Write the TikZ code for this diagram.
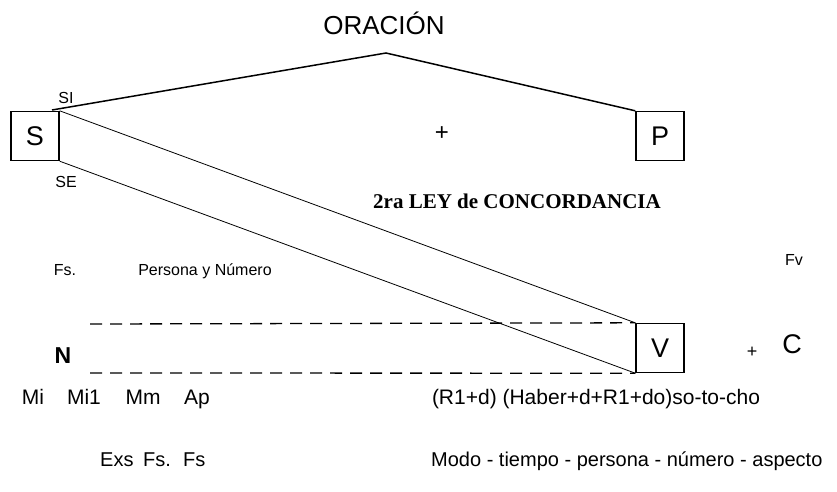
\documentclass[tikz,border=0pt]{standalone}
\usepackage{fontspec}
\setmainfont{Liberation Sans}
\newfontfamily\timesfont{Liberation Serif}
\usepackage{tikz}

\tikzset{
  caja/.style={draw, line width=1.4pt, minimum width=48pt, minimum height=49pt, inner sep=0pt, font=\fontsize{27}{27}\selectfont},
  chico/.style={anchor=base, inner sep=0pt, font=\fontsize{16}{16}\selectfont},
  medio/.style={anchor=base, inner sep=0pt, font=\fontsize{21}{21}\selectfont},
  bajo/.style={anchor=base west, inner sep=0pt, font=\fontsize{20}{20}\selectfont},
  raya/.style={dash pattern=on 12pt off 8pt, line width=1.3pt}
}

\begin{document}
\begin{tikzpicture}[x=1pt, y=-1pt]
      \useasboundingbox (0,0) rectangle (837,491);
      \node[anchor=base, inner sep=0pt, font=\fontsize{26}{26}\selectfont] (oracion) at (384,34) {ORACIÓN};
      \node[caja] (S) at (35,136) {S};
      \node[caja] (P) at (660,136) {P};
      \node[caja] (V) at (660,348) {V};
      \coordinate (apex) at (386,53);
      \coordinate (si) at (52,110);
      \draw[line width=1.5pt] (si) -- (apex) -- (P.north west);
      \draw[line width=0.8pt] (S.north east) -- (V.north west);
      \draw[line width=0.8pt] (S.south east) -- (V.south west);
      \coordinate (n1) at (90,324);
      \coordinate (n2) at (90,373);
      \draw[raya] (n1) -- (V.north west);
      \draw[raya] (n2) -- (V.south west);
      \node[chico] (si lbl) at (66,103) {SI};
      \node[chico] (se lbl) at (66,187) {SE};
      \node[anchor=center, inner sep=0pt, font=\fontsize{24}{24}\selectfont] (mas) at (442,134) {+};
      \node[anchor=base, inner sep=0pt, font=\timesfont\bfseries\fontsize{21}{21}\selectfont] (ley) at (517,208) {2ra LEY de CONCORDANCIA};
      \node[chico] (fs) at (65,275) {Fs.};
      \node[chico] (pn) at (205,275) {Persona y Número};
      \node[chico] (fv) at (794,265) {Fv};
      \node[anchor=base, inner sep=0pt, font=\bfseries\fontsize{23}{23}\selectfont] (N) at (63,363) {N};
      \node[anchor=center, inner sep=0pt, font=\fontsize{18}{18}\selectfont] (mas2) at (752,352) {+};
      \node[anchor=base, inner sep=0pt, font=\fontsize{27}{27}\selectfont] (C) at (792,353) {C};
      \node[medio] (mi) at (33,404) {Mi};
      \node[medio] (mi1) at (84,404) {Mi1};
      \node[medio] (mm) at (143,404) {Mm};
      \node[medio] (ap) at (197,404) {Ap};
      \node[medio] (verbo) at (596,404) {(R1+d) (Haber+d+R1+do)so-to-cho};
      \node[bajo] (exs) at (100,466) {Exs};
      \node[bajo] (fs2) at (143,466) {Fs.};
      \node[bajo] (fs3) at (183,466) {Fs};
      \node[bajo] (modo) at (431,466) {Modo - tiempo - persona - número - aspecto};
    \end{tikzpicture}
\end{document}
